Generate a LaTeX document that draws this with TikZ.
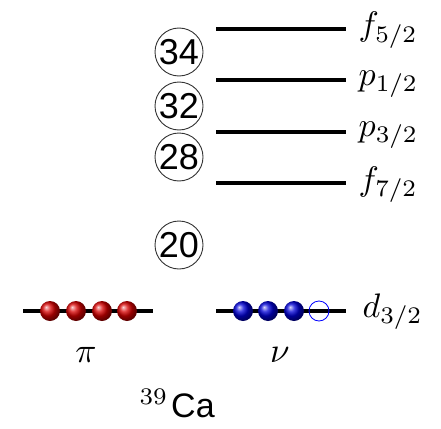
\documentclass[tikz,border=0pt]{standalone}
\usepackage{fontspec}
\setsansfont{Liberation Sans}
\usetikzlibrary{shadings}
\begin{document}
\begin{tikzpicture}[x=1pt,y=-1pt,
  level/.style={line width=3.5pt},
  magic/.style={inner sep=0pt,font=\fontsize{36}{36}\sffamily},
  ring/.style={draw=black!80,line width=0.9pt},
  lab/.style={inner sep=0pt,anchor=base west,scale=3.4},
  plab/.style={inner sep=0pt,anchor=base,scale=3.5},
  pball/.style={circle,inner sep=0pt,minimum size=20pt,shading=ball,ball color=red!85!black},
  nball/.style={circle,inner sep=0pt,minimum size=20pt,shading=ball,ball color=blue!85!black},
  hole/.style={draw=blue,line width=0.8pt}]
\useasboundingbox (0,0) rectangle (441,428);
% ring centres and rings first
\coordinate (c34) at (179,52);
\coordinate (c32) at (179,106);
\coordinate (c28) at (179,157);
\coordinate (c20) at (179,245);
\draw[ring] (c34) circle[radius=24pt];
\draw[ring] (c32) circle[radius=24pt];
\draw[ring] (c28) circle[radius=24pt];
\draw[ring] (c20) circle[radius=24pt];
% neutron levels
\coordinate (f5a) at (216,29); \coordinate (f5b) at (346,29);
\coordinate (p1a) at (216,80); \coordinate (p1b) at (346,80);
\coordinate (p3a) at (216,132); \coordinate (p3b) at (346,132);
\coordinate (f7a) at (216,183); \coordinate (f7b) at (346,183);
\draw[level] (f5a) -- (f5b);
\draw[level] (p1a) -- (p1b);
\draw[level] (p3a) -- (p3b);
\draw[level] (f7a) -- (f7b);
% d3/2 levels
\coordinate (pla) at (23,311); \coordinate (plb) at (153,311);
\coordinate (nla) at (216,311); \coordinate (nlb) at (346,311);
\draw[level] (pla) -- (plb);
\draw[level] (nla) -- (nlb);
\coordinate (n4) at (319,311);
\draw[hole] (n4) circle[radius=10pt];
\node[pball] (p1) at (50,311) {};
\node[pball] (p2) at (76,311) {};
\node[pball] (p3) at (102,311) {};
\node[pball] (p4) at (127,311) {};
\node[nball] (n1) at (243,311) {};
\node[nball] (n2) at (268,311) {};
\node[nball] (n3) at (294,311) {};
% texts
\node[magic] (m34) at (c34) {34};
\node[magic] (m32) at (c32) {32};
\node[magic] (m28) at (c28) {28};
\node[magic] (m20) at (c20) {20};
\node[lab] (lf5) at (358,36) {$f_{5/2}$};
\node[lab] (lp1) at (358,85) {$p_{1/2}$};
\node[lab] (lp3) at (358,136) {$p_{3/2}$};
\node[lab] (lf7) at (358,190) {$f_{7/2}$};
\node[lab] (ld3) at (362,317) {$d_{3/2}$};
\node[plab] (lpi) at (86,362) {$\pi$};
\node[plab] (lnu) at (280,362) {$\nu$};
\node[inner sep=0pt,anchor=base west,font=\fontsize{34}{34}\sffamily] (ca) at (171,417) {Ca};
\node[inner sep=0pt,anchor=base east,scale=3.4] (mass) at ([xshift=-2pt]ca.base west) {$^{39}$};
\end{tikzpicture}
\end{document}
